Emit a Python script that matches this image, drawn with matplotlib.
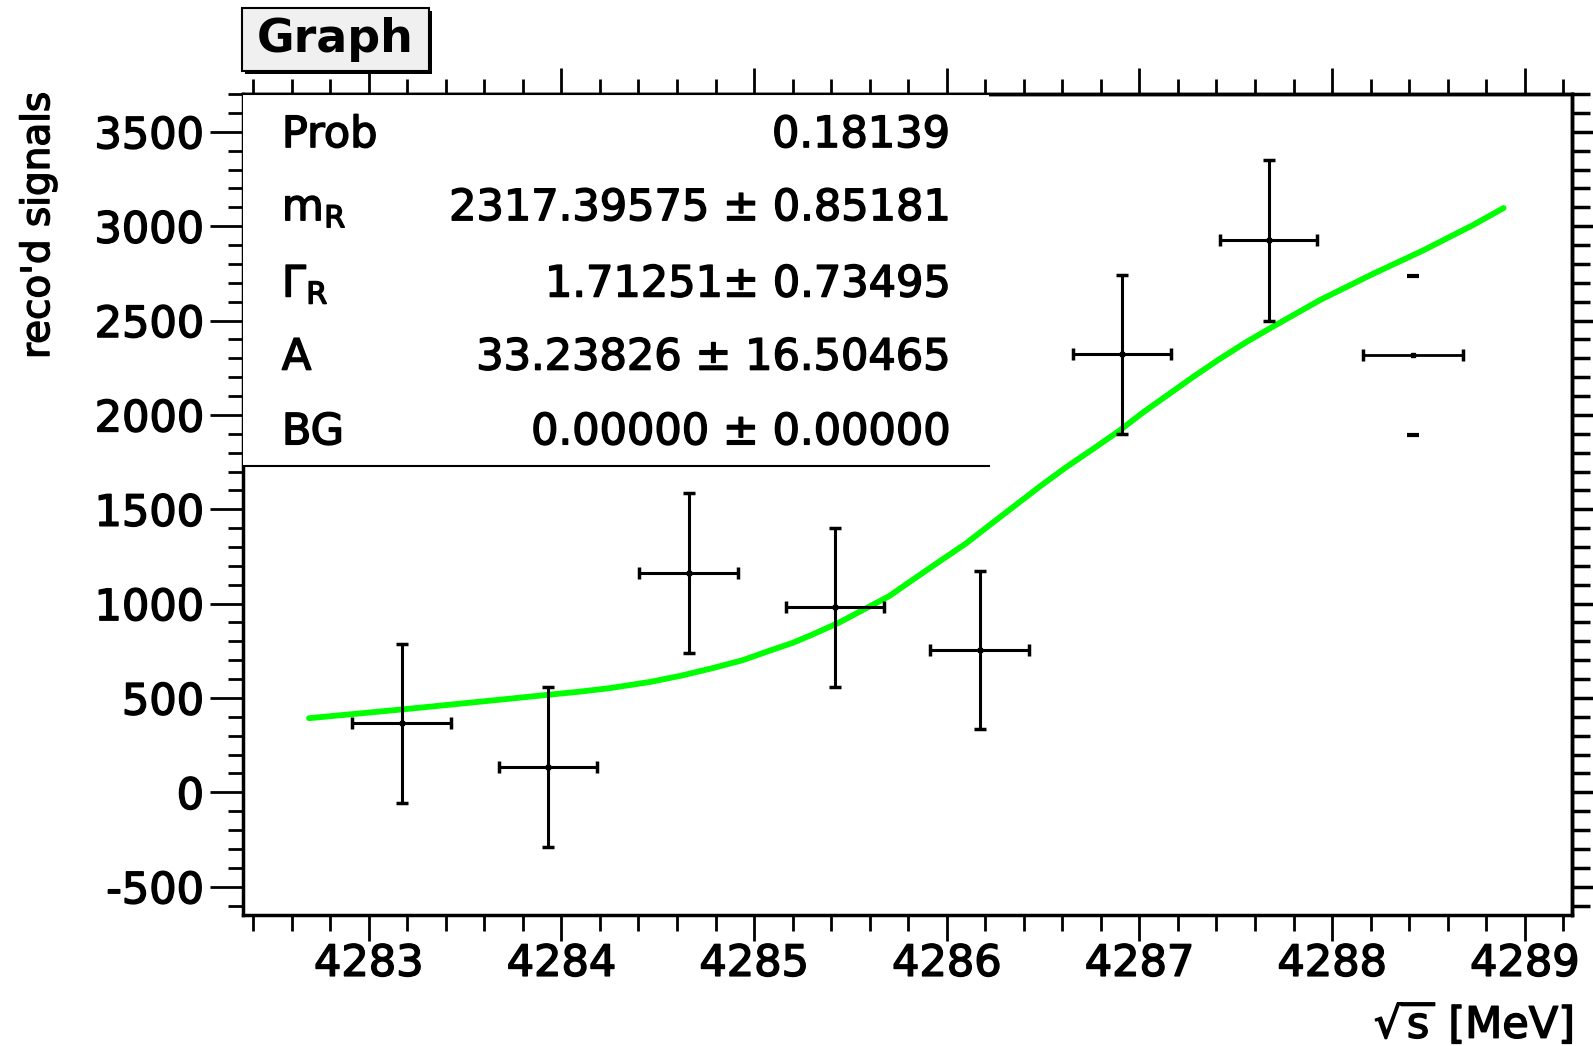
import matplotlib
matplotlib.use("Agg")
import matplotlib.pyplot as plt
import matplotlib.patheffects as pe
from matplotlib.patches import Rectangle
from matplotlib.ticker import MultipleLocator, NullFormatter

# Messpunkte: sqrt(s) [MeV] und rekonstruierte Signale
energy = [4283.17, 4283.93, 4284.66, 4285.42, 4286.17, 4286.91, 4287.67, 4288.42]
energy_err = [0.255, 0.255, 0.255, 0.255, 0.255, 0.255, 0.25, 0.26]
signals = [366, 135, 1163, 980, 754, 2321, 2924, 2316]
signal_err = [420, 423, 422, 423, 418, 420, 425, 422]

# Fitkurve
fit_x = [4282.69, 4283.20, 4283.72, 4283.93, 4284.09, 4284.25, 4284.46, 4284.62,
         4284.78, 4284.94, 4285.09, 4285.20, 4285.30, 4285.44, 4285.57, 4285.70,
         4285.83, 4285.96, 4286.10, 4286.23, 4286.36, 4286.49, 4286.62, 4286.76,
         4286.89, 4287.02, 4287.15, 4287.28, 4287.41, 4287.55, 4287.68, 4287.94,
         4288.21, 4288.47, 4288.73, 4288.89]
fit_y = [393, 442, 495, 517, 533, 552, 585, 618,
         657, 700, 754, 792, 835, 899, 969, 1039,
         1131, 1222, 1319, 1422, 1524, 1626, 1723, 1820,
         1912, 2014, 2108, 2202, 2292, 2383, 2460, 2610,
         2746, 2870, 3005, 3096]

# Statistik-Box
stat_names = ["Prob", r"m$_\mathregular{R}$", r"$\Gamma_\mathregular{R}$", "A", "BG"]
stat_values = ["0.18139", "2317.39575 ± 0.85181", "1.71251± 0.73495",
               "33.23826 ± 16.50465", "0.00000 ± 0.00000"]

plt.rcParams["font.family"] = ["DejaVu Sans"]
plt.rcParams["axes.unicode_minus"] = False
heavy = [pe.withStroke(linewidth=1.1, foreground="black")]

fig = plt.figure(figsize=(15.93, 10.46), dpi=100)
ax = fig.add_axes([0.1525, 0.1252, 0.8343, 0.7849])
ax.set_xlim(4282.347, 4289.245)
ax.set_ylim(-650, 3700)

# Fit
ax.plot(fit_x, fit_y, color="#00ff00", lw=4.2, zorder=2,
        solid_capstyle="round", solid_joinstyle="round")

# Fehlerbalken (letzter Punkt: nur Kappen in y)
ax.errorbar(energy[:-1], signals[:-1], xerr=energy_err[:-1], yerr=signal_err[:-1],
            fmt="s", ms=3.5, color="black", elinewidth=2.2, capsize=4.5, capthick=2.5, zorder=3)
ax.errorbar(energy[-1:], signals[-1:], xerr=energy_err[-1:],
            fmt="s", ms=3.5, color="black", elinewidth=2.0, capsize=4.5, capthick=2.5, zorder=3)
ax.errorbar(energy[-1:], signals[-1:], yerr=signal_err[-1:],
            fmt="none", color="black", elinewidth=0, capsize=4.5, capthick=3, zorder=3)

# Achsen im ROOT-Stil, Ticks nach aussen
for s in ax.spines.values():
    s.set_linewidth(2.5)
ax.xaxis.set_major_locator(MultipleLocator(1))
ax.xaxis.set_minor_locator(MultipleLocator(0.2))
ax.yaxis.set_major_locator(MultipleLocator(500))
ax.yaxis.set_minor_locator(MultipleLocator(100))
ax.tick_params(axis="x", which="major", direction="out", length=19, width=2,
               labelsize=31, pad=1)
ax.tick_params(axis="x", which="minor", direction="out", length=11.5, width=2)
ax.tick_params(axis="y", which="major", direction="out", length=24, width=2,
               labelsize=31, pad=4)
ax.tick_params(axis="y", which="minor", direction="out", length=11, width=2)

top = ax.secondary_xaxis("top")
top.xaxis.set_major_locator(MultipleLocator(1))
top.xaxis.set_minor_locator(MultipleLocator(0.2))
top.xaxis.set_major_formatter(NullFormatter())
top.tick_params(which="major", direction="out", length=19, width=2)
top.tick_params(which="minor", direction="out", length=11, width=2)
top.spines["top"].set_linewidth(2.5)

right = ax.secondary_yaxis("right")
right.yaxis.set_major_locator(MultipleLocator(500))
right.yaxis.set_minor_locator(MultipleLocator(100))
right.yaxis.set_major_formatter(NullFormatter())
right.tick_params(which="major", direction="out", length=15, width=2.5)
right.tick_params(which="minor", direction="out", length=13, width=2.5)
right.spines["right"].set_linewidth(2.5)

# Statistik-Box
box_r, box_b = 0.561, 0.547
ax.add_patch(Rectangle((0, box_b), box_r, 1 - box_b, transform=ax.transAxes,
                       facecolor="white", edgecolor="none", zorder=4))
ax.plot([0, box_r], [box_b, box_b], transform=ax.transAxes, color="black",
        lw=1.5, clip_on=False, zorder=5)
ax.plot([0, box_r], [1, 1], transform=ax.transAxes, color="black",
        lw=1.5, clip_on=False, zorder=5)
rows_y = [0.950, 0.861, 0.768, 0.679, 0.588]
for name, val, yy in zip(stat_names, stat_values, rows_y):
    ax.text(0.0293, yy, name, transform=ax.transAxes, ha="left", va="center",
            fontsize=31, zorder=6, path_effects=heavy)
    ax.text(0.532, yy, val, transform=ax.transAxes, ha="right", va="center",
            fontsize=31, zorder=6, path_effects=heavy)

# Titel-Box "Graph"
x0, y0, w, h = 242 / 1593, 1 - 71 / 1046, 187 / 1593, 63 / 1046
fig.add_artist(Rectangle((x0 + 0.0019, y0 - 0.0029), w, h, transform=fig.transFigure,
                         facecolor="black", edgecolor="none"))
fig.add_artist(Rectangle((x0, y0), w, h, transform=fig.transFigure,
                         facecolor="#f0f0f0", edgecolor="black", lw=1.5))
fig.text(x0 + w / 2, y0 + h / 2, "Graph", ha="center", va="center",
         fontsize=33, fontweight="bold")

# Achsenbeschriftungen
fig.text(38 / 1593, 1 - 92 / 1046, "reco'd signals", rotation=90,
         ha="center", va="top", fontsize=28, path_effects=heavy)
fig.text(1573 / 1593, 1 - 1024 / 1046, r"$\sqrt{\mathregular{s}}$ [MeV]",
         ha="right", va="center", fontsize=31, path_effects=heavy)

fig.canvas.draw()
for lbl in ax.get_xticklabels() + ax.get_yticklabels():
    lbl.set_path_effects(heavy)

fig.savefig("out.png", dpi=100)
